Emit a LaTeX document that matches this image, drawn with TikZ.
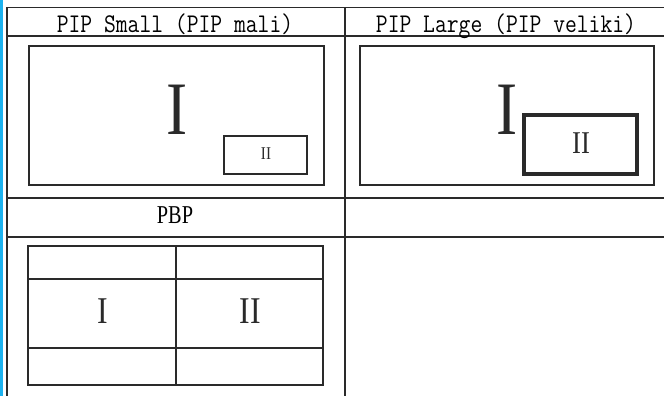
\documentclass[tikz,border=0pt]{standalone}
\usepackage{fontspec}
\usepackage{xcolor,tikz,graphicx}
\usetikzlibrary{positioning,calc}
\newfontfamily\numfont{Liberation Serif}
\definecolor{gridc}{HTML}{2A2A2A}
\definecolor{edgeblue}{HTML}{1CB3F0}
\tikzset{
  gridline/.style={draw=gridc, line width=1.6pt},
  winbox/.style={draw=gridc, line width=1.5pt},
  subbox/.style={draw=gridc, line width=1.4pt},
  bigsub/.style={draw=gridc, line width=3.4pt},
  head/.style={inner sep=0pt, anchor=base, text=black},
  numeral/.style={inner sep=0pt, text=gridc},
}
\newcommand{\headtxt}[1]{{\fontsize{27}{27}\selectfont\ttfamily\scalebox{0.85}[1]{#1}}}
\newcommand{\romsize}[2]{{\fontsize{#1}{#1}\selectfont\numfont\scalebox{0.84}[1]{#2}}}

\begin{document}
\begin{tikzpicture}[x=1pt, y=-1pt]
  \useasboundingbox (0,0) rectangle (664,396);
  % frame of the table
  \fill[edgeblue] (0,0) rectangle (3,396);
  \draw[gridc, line width=2.6pt] (7,7.5) -- (7,396);
  \foreach \yy in {7.5,36,198,237} \draw[gridline] (7,\yy) -- (664,\yy);
  \draw[gridline] (345,7.5) -- (345,396);
  % headers
  \node[head] (hsmall) at (175,33) {\headtxt{PIP Small (PIP mali)}};
  \node[head] (hlarge) at (506,33) {\headtxt{PIP Large (PIP veliki)}};
  \node[head] (hpbp) at (175,223) {\fontsize{25.7}{25.7}\selectfont\numfont\scalebox{0.79}[1]{PBP}};
  % PIP small
  \draw[winbox] (29,46) rectangle (324,185);
  \draw[subbox] (224,136) rectangle (307,174);
  \node[numeral] (smallI) at (177,110) {\romsize{75.5}{I}};
  \node[numeral] (smallII) at (266,154) {\romsize{18}{II}};
  % PIP large
  \draw[winbox] (360,46) rectangle (654,185);
  \draw[bigsub] (524,115) rectangle (637,174);
  \node[numeral] (largeI) at (507,110) {\romsize{75.5}{I}};
  \node[numeral] (largeII) at (581,143) {\romsize{31.7}{II}};
  % PBP
  \draw[winbox] (28,246) rectangle (323,385);
  \draw[subbox] (28,279) -- (323,279);
  \draw[subbox] (28,348) -- (323,348);
  \draw[subbox] (176,246) -- (176,385);
  \node[numeral] (pbpI) at (103,311) {\romsize{37.8}{I}};
  \node[numeral] (pbpII) at (250,311) {\romsize{37.8}{II}};
\end{tikzpicture}
\end{document}
